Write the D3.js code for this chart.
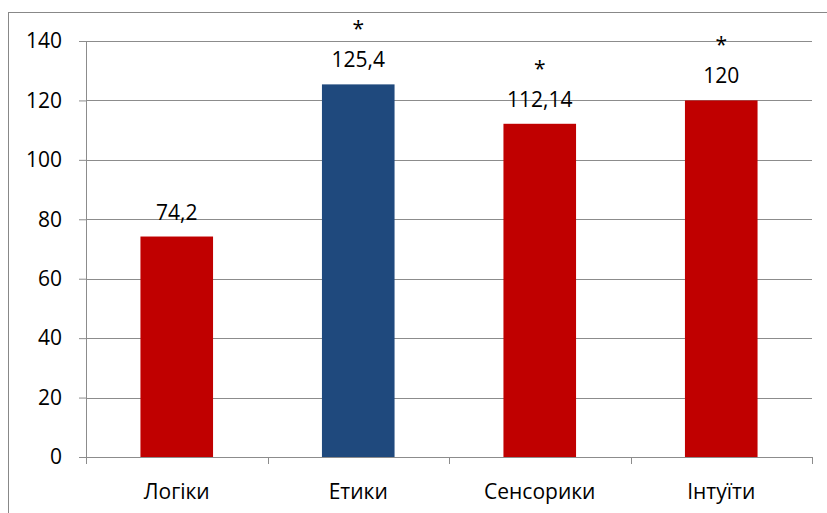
<!DOCTYPE html>
<html>
<head>
<meta charset="utf-8">
<script src="https://cdn.jsdelivr.net/npm/d3@7"></script>
<style>
  body { margin: 0; background: #fff; }
  text { font-family: "Open Sans", "Noto Sans", sans-serif; fill: #000; }
</style>
</head>
<body>
<svg id="chart" width="827" height="513"></svg>
<script>
var categories = ["Логіки", "Етики", "Сенсорики", "Інтуїти"];
var values = [74.2, 125.4, 112.14, 120];
var valueLabels = ["74,2", "125,4", "112,14", "120"];
var marks = ["", "*", "*", "*"];
var barColors = ["#c00000", "#1f497d", "#c00000", "#c00000"];
var yTicks = [0, 20, 40, 60, 80, 100, 120, 140];

var margin = { left: 86, top: 41, right: 15, bottom: 56 };
var width = 827 - margin.left - margin.right;
var height = 513 - margin.top - margin.bottom;

const svg = d3.select("#chart");

// outer frame of the chart area
svg
  .append("rect")
  .attr("x", 8.5)
  .attr("y", 12.5)
  .attr("width", 830)
  .attr("height", 520)
  .attr("fill", "none")
  .attr("stroke", "#888");

const g = svg
  .append("g")
  .attr("transform", `translate(${margin.left},${margin.top})`);

const xScale = d3.scaleBand().domain(categories).range([0, width]).paddingInner(0.6).paddingOuter(0.3);
const xBand = d3.scaleBand().domain(categories).range([0, width]);
const yScale = d3.scaleLinear().domain([0, 140]).range([height, 0]);

// gridlines
g.selectAll(".grid")
  .data(yTicks)
  .enter()
  .append("line")
  .attr("class", "grid")
  .attr("x1", 0)
  .attr("x2", width)
  .attr("y1", (d) => Math.round(yScale(d)) + 0.5)
  .attr("y2", (d) => Math.round(yScale(d)) + 0.5)
  .attr("stroke", "#8c8c8c")
  .attr("stroke-width", 1);

// bars
g.selectAll(".bar")
  .data(values)
  .enter()
  .append("rect")
  .attr("class", "bar")
  .attr("x", (d, i) => xScale(categories[i]))
  .attr("y", (d) => yScale(d))
  .attr("width", xScale.bandwidth())
  .attr("height", (d) => height - yScale(d))
  .attr("fill", (d, i) => barColors[i]);

// y axis
const yAxis = g
  .append("g")
  .attr("class", "y-axis")
  .call(d3.axisLeft(yScale).tickValues(yTicks).tickSize(7).tickSizeOuter(0).tickPadding(17));
yAxis.selectAll("line").attr("stroke", "#8c8c8c");
yAxis.select(".domain").attr("stroke", "#8c8c8c");
yAxis.selectAll("text").style("font-size", "21px").attr("font-family", null);

// x axis with tick marks at band edges
const xAxisG = g.append("g").attr("transform", `translate(0,${height})`);
xAxisG
  .append("line")
  .attr("x1", 0)
  .attr("x2", width)
  .attr("y1", 0.5)
  .attr("y2", 0.5)
  .attr("stroke", "#8c8c8c");
var edges = categories.map((c) => xBand(c)).concat([width]);
xAxisG
  .selectAll(".xtick")
  .data(edges)
  .enter()
  .append("line")
  .attr("x1", (d) => Math.round(d) + 0.5)
  .attr("x2", (d) => Math.round(d) + 0.5)
  .attr("y1", 0)
  .attr("y2", 7)
  .attr("stroke", "#8c8c8c");
xAxisG
  .selectAll(".xlabel")
  .data(categories)
  .enter()
  .append("text")
  .attr("x", (d) => xBand(d) + xBand.bandwidth() / 2)
  .attr("y", 42)
  .style("text-anchor", "middle")
  .style("font-size", "21px")
  .text((d) => d);

// value labels
g.selectAll(".vlabel")
  .data(values)
  .enter()
  .append("text")
  .attr("x", (d, i) => xScale(categories[i]) + xScale.bandwidth() / 2)
  .attr("y", (d) => yScale(d) - 17)
  .style("text-anchor", "middle")
  .style("font-size", "21px")
  .text((d, i) => valueLabels[i]);

// significance marks
g.selectAll(".mark")
  .data(values)
  .enter()
  .append("text")
  .attr("x", (d, i) => xScale(categories[i]) + xScale.bandwidth() / 2)
  .attr("y", (d) => yScale(d) - 48)
  .style("text-anchor", "middle")
  .style("font-size", "21px")
  .text((d, i) => marks[i]);
</script>
</body>
</html>
